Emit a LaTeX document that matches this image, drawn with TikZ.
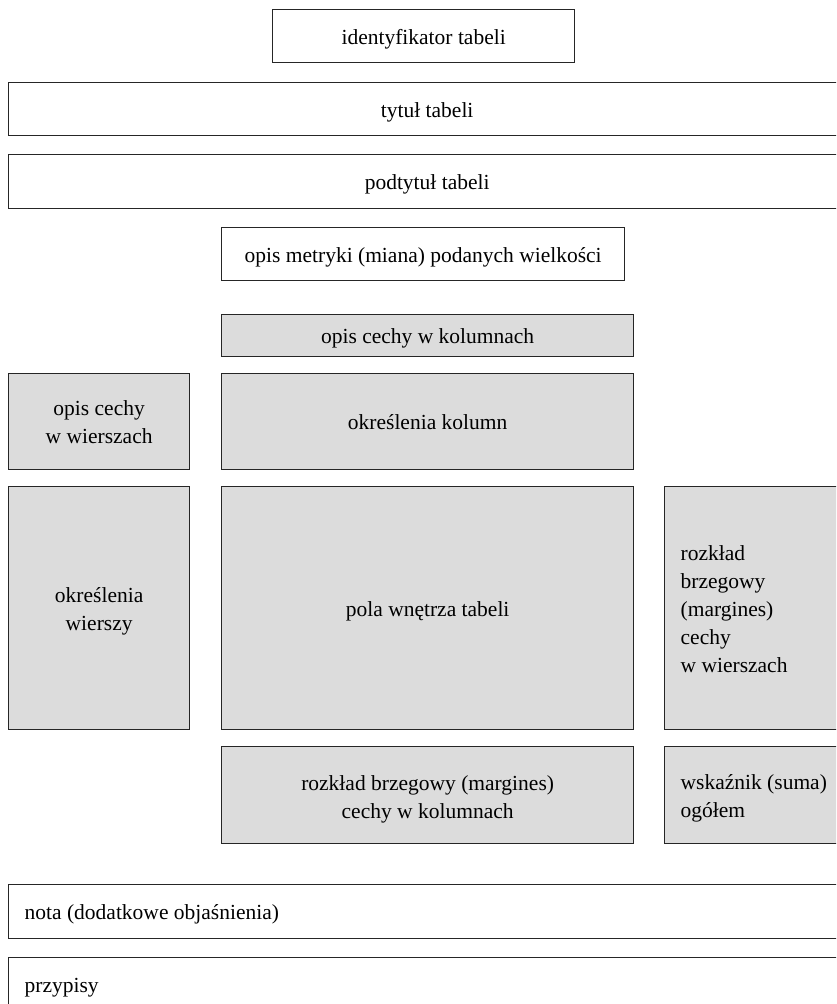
\documentclass[tikz,border=0pt]{standalone}
\usepackage{fontspec}
\setmainfont{Liberation Serif}
\definecolor{cellgray}{HTML}{DCDCDC}
\tikzset{
  box/.style={draw=black!85, line width=1.3pt, anchor=north west, inner sep=0pt, align=center,
    font=\fontsize{21.5}{28}\selectfont, text height=20pt, text depth=4pt},
  shaded/.style={box, fill=cellgray},
  twolines/.style={text height=48pt},
  lefttext/.style={inner xsep=16pt, inner ysep=0pt, align=flush left}
}
\begin{document}
\begin{tikzpicture}[x=1pt,y=-1pt]
\clip (0,0) rectangle (836,1004);
\fill[white] (0,0) rectangle (836,1004);
\node[box, minimum width=302pt, minimum height=53pt] (ident) at (272,9) {identyfikator tabeli};
\node[box, minimum width=837pt, minimum height=53pt] (tytul) at (8,82) {tytuł tabeli};
\node[box, minimum width=837pt, minimum height=54pt] (podtytul) at (8,154) {podtytuł tabeli};
\node[box, minimum width=403pt, minimum height=53pt] (metryka) at (221,227) {opis metryki (miana) podanych wielkości};
\node[shaded, minimum width=412pt, minimum height=42pt] (kolopis) at (221,314) {opis cechy w kolumnach};
\node[shaded, twolines, minimum width=181pt, minimum height=96pt] (wieropis) at (8,373) {opis cechy\\w wierszach};
\node[shaded, minimum width=412pt, minimum height=96pt] (kolokr) at (221,373) {określenia kolumn};
\node[shaded, twolines, minimum width=181pt, minimum height=243pt] (wierokr) at (8,486) {określenia\\wierszy};
\node[shaded, minimum width=412pt, minimum height=243pt] (pola) at (221,486) {pola wnętrza tabeli};
\node[shaded, lefttext, text depth=116pt, text width=149pt, minimum height=243pt] (margw) at (664,486) {rozkład\\brzegowy\\(margines)\\cechy\\w wierszach};
\node[shaded, twolines, text height=51pt, minimum width=412pt, minimum height=97pt] (margk) at (221,746) {rozkład brzegowy (margines)\\cechy w kolumnach};
\node[shaded, lefttext, text depth=32pt, text width=149pt, minimum height=97pt] (suma) at (664,746) {wskaźnik (suma)\\ogółem};
\node[box, lefttext, text width=805pt, minimum height=54pt] (nota) at (8,884) {nota (dodatkowe objaśnienia)};
\node[box, lefttext, text width=805pt, minimum height=54pt] (przypisy) at (8,957) {przypisy};
\end{tikzpicture}
\end{document}
